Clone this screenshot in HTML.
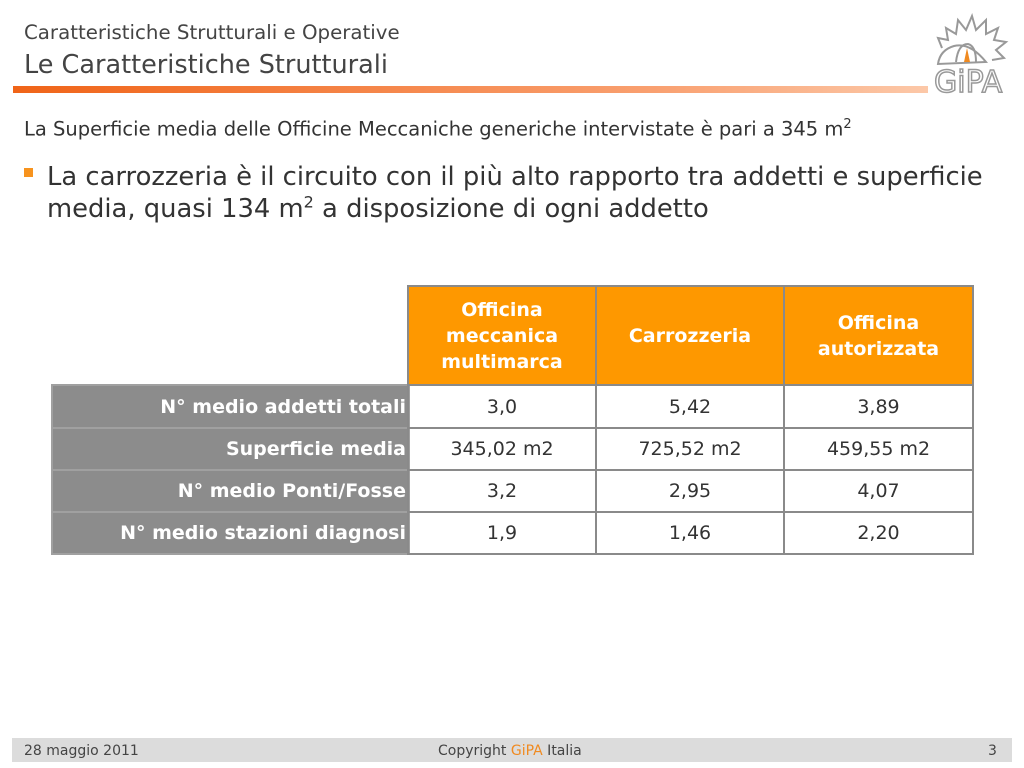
<!DOCTYPE html>
<html><head><meta charset="utf-8"><style>
body{margin:0;width:1024px;height:768px;position:relative;background:#fff;font-family:"DejaVu Sans","Liberation Sans",sans-serif;color:#333;overflow:hidden}
.a{position:absolute;white-space:nowrap}
.c{position:absolute;box-sizing:border-box;border:2px solid #8a8a8a;display:flex;align-items:center;justify-content:center;font-size:19px;text-align:center;line-height:26px;white-space:nowrap}
.h{background:#fe9800;color:#fff;font-weight:bold}
.l{background:#8c8c8c;color:#fff;font-weight:bold;justify-content:flex-end;padding-right:2px;left:51px;width:359px;border-color:#a0a0a0}
</style></head><body>
<div class="a" style="left:24px;top:21px;font-size:19.8px;color:#444">Caratteristiche Strutturali e Operative</div>
<div class="a" style="left:24px;top:50px;font-size:25.5px;color:#444">Le Caratteristiche Strutturali</div>
<div class="a" style="left:13px;top:86px;width:915px;height:7px;background:linear-gradient(90deg,#f06418,#f9a070 70%,#fcc8a8)"></div>
<svg class="a" style="left:930px;top:10px" width="80" height="88" viewBox="0 0 80 88">
<g fill="none" stroke="#999" stroke-width="2">
<path d="M12 38 L8 28 L18 30 L16 18 L26 24 L28 10 L36 20 L42 6 L46 20 L56 10 L56 24 L68 18 L64 30 L76 32 L66 40 L74 48 L62 50"/>
<path d="M8 54 Q10 40 24 36 Q40 32 56 52 L8 54Z"/>
<path d="M26 52 Q28 34 38 34 Q46 36 46 52"/>
<text x="4" y="82" font-family="DejaVu Sans" font-size="30" stroke="#999" stroke-width="1.5" fill="none">GiPA</text>
</g>
<path d="M34 52 L37 38 L40 52Z" fill="#f08a20"/>
</svg>
<div class="a" style="left:24px;top:117px;font-size:19.5px;color:#333">La Superficie media delle Officine Meccaniche generiche intervistate è pari a 345 m<sup style="font-size:13px">2</sup></div>
<div class="a" style="left:24px;top:168px;width:9px;height:9px;background:#f7931e"></div>
<div class="a" style="left:47px;top:161px;font-size:25.8px;line-height:32px;color:#333">La carrozzeria è il circuito con il più alto rapporto tra addetti e superficie<br>media, quasi 134 m<sup style="font-size:16px;line-height:0">2</sup> a disposizione di ogni addetto</div>

<div class="c h" style="left:407px;top:285px;width:190px;height:101px">Officina<br>meccanica<br>multimarca</div>
<div class="c h" style="left:595px;top:285px;width:190px;height:101px">Carrozzeria</div>
<div class="c h" style="left:783px;top:285px;width:191px;height:101px">Officina<br>autorizzata</div>

<div class="c l" style="top:384px;height:45px">N° medio addetti totali</div>
<div class="c" style="left:407px;top:384px;width:190px;height:45px">3,0</div>
<div class="c" style="left:595px;top:384px;width:190px;height:45px">5,42</div>
<div class="c" style="left:783px;top:384px;width:191px;height:45px">3,89</div>

<div class="c l" style="top:427px;height:44px">Superficie media</div>
<div class="c" style="left:407px;top:427px;width:190px;height:44px">345,02 m2</div>
<div class="c" style="left:595px;top:427px;width:190px;height:44px">725,52 m2</div>
<div class="c" style="left:783px;top:427px;width:191px;height:44px">459,55 m2</div>

<div class="c l" style="top:469px;height:44px">N° medio Ponti/Fosse</div>
<div class="c" style="left:407px;top:469px;width:190px;height:44px">3,2</div>
<div class="c" style="left:595px;top:469px;width:190px;height:44px">2,95</div>
<div class="c" style="left:783px;top:469px;width:191px;height:44px">4,07</div>

<div class="c l" style="top:511px;height:44px">N° medio stazioni diagnosi</div>
<div class="c" style="left:407px;top:511px;width:190px;height:44px">1,9</div>
<div class="c" style="left:595px;top:511px;width:190px;height:44px">1,46</div>
<div class="c" style="left:783px;top:511px;width:191px;height:44px">2,20</div>

<div class="a" style="left:12px;top:738px;width:1000px;height:24px;background:#dcdcdc"></div>
<div class="a" style="left:24px;top:743px;font-size:14px;color:#444">28 maggio 2011</div>
<div class="a" style="left:438px;top:743px;font-size:14px;color:#444">Copyright <span style="color:#f08a20">GiPA</span> Italia</div>
<div class="a" style="left:988px;top:743px;font-size:14px;color:#444">3</div>
</body></html>
